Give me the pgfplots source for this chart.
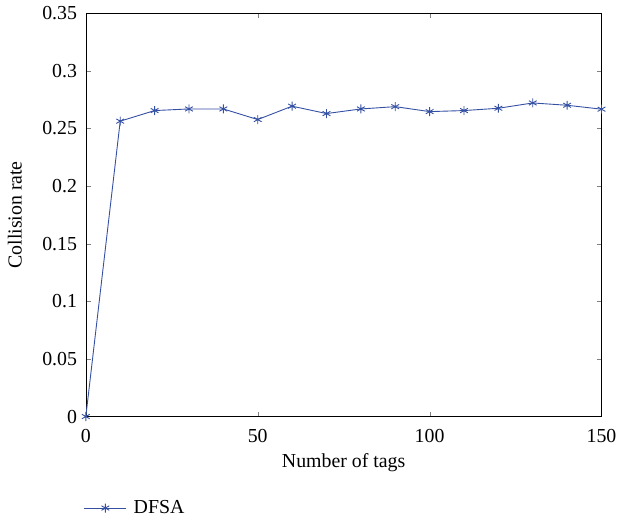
\documentclass[border=0pt]{standalone}
\usepackage{pgfplots}
\pgfplotsset{compat=1.18}
\usepackage{fontspec}
\setmainfont{Liberation Serif}
\definecolor{dfsa}{RGB}{52,80,163}

\begin{document}
\fontsize{20}{24}\selectfont
\begin{tikzpicture}
\begin{axis}[
    scale only axis,
    width=518bp, height=405bp,
    xmin=0, xmax=150, ymin=0, ymax=0.35,
    xtick={0,50,100,150},
    ytick={0,0.05,0.1,0.15,0.2,0.25,0.3,0.35},
    yticklabels={0,0.05,0.1,0.15,0.2,0.25,0.3,0.35},
    tick align=inside,
    major tick length=5bp,
    xtick pos=both, ytick pos=both,
    /pgf/number format/assume math mode=true,
    tick label style={font=\fontsize{20}{24}\selectfont},
    xticklabel style={yshift=-6bp},
    yticklabel style={xshift=-2bp},
    label style={font=\fontsize{20}{24}\selectfont},
    xlabel={Number of tags},
    xlabel style={at={(axis description cs:0.5,0)}, anchor=center, yshift=-46bp},
    ylabel={Collision rate},
    ylabel style={at={(axis description cs:0,0.5)}, anchor=south, inner xsep=0pt,
        inner ysep=8bp, yshift=56bp},
    legend style={at={(axis description cs:0,-0.227)}, anchor=west, draw=none, fill=none,
        xshift=-5bp, font=\fontsize{20}{24}\selectfont},
    legend cell align=left,
    legend image code/.code={
        \draw[mark repeat=2, mark phase=2] plot coordinates {(0bp,0bp) (21bp,0bp) (42bp,0bp)};
        \path (47bp,0bp);
    },
]
\addplot[color=dfsa, mark=asterisk, mark size=4.5bp, line width=0.9pt]
coordinates {
(0,0) (10,0.2564) (20,0.2656) (30,0.267) (40,0.267) (50,0.2578)
(60,0.2694) (70,0.263) (80,0.267) (90,0.269) (100,0.2647)
(110,0.2656) (120,0.2676) (130,0.2722) (140,0.2702) (150,0.2668)
};
\addlegendentry{DFSA}
\end{axis}
\end{tikzpicture}
\end{document}
